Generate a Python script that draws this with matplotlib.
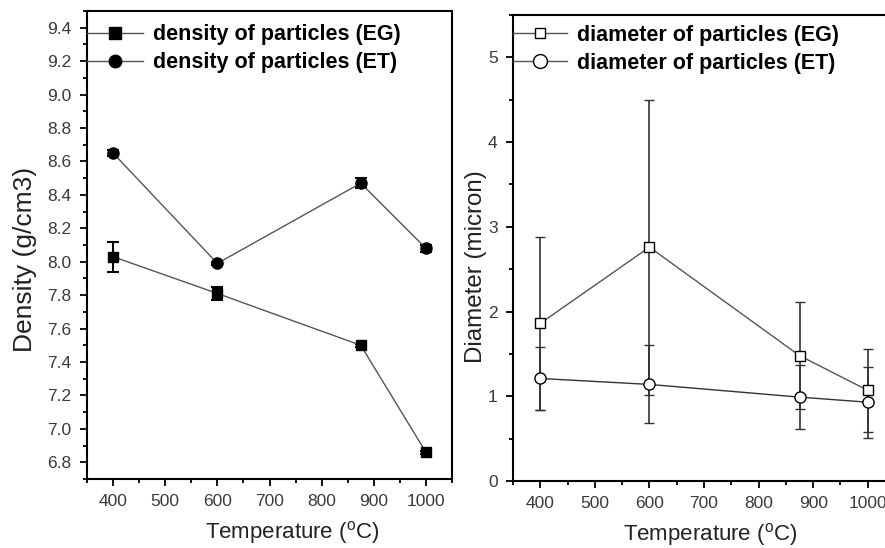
import numpy as np
import matplotlib.pyplot as plt
from matplotlib.lines import Line2D
from matplotlib.ticker import MultipleLocator

plt.rcParams['font.family'] = ['Liberation Sans', 'DejaVu Sans']
plt.rcParams['mathtext.default'] = 'regular'

# 煅烧温度
temps = [400, 600, 875, 1000]

# 密度 (g/cm3)
dens_eg = [8.03, 7.81, 7.50, 6.86]
dens_eg_err = [0.09, 0.04, 0.01, 0.01]
dens_et = [8.65, 7.99, 8.47, 8.08]
dens_et_err = [0.02, 0.01, 0.03, 0.02]

# 粒径 (micron)
diam_eg = [1.86, 2.76, 1.48, 1.07]
diam_eg_err = [1.02, 1.74, 0.63, 0.49]
diam_et = [1.21, 1.14, 0.99, 0.93]
diam_et_err = [0.37, 0.46, 0.38, 0.42]

LINE_C = '#555555'


def style_axes(ax, xlab_x):
    ax.tick_params(which='both', direction='out', top=False, right=False,
                   colors='black', labelcolor='#3a3a3a', labelsize=12.5, width=1.3)
    ax.tick_params(which='major', length=5, pad=6)
    ax.tick_params(which='minor', length=3)
    for sp in ax.spines.values():
        sp.set_linewidth(1.5)
    ax.set_xlim(350, 1050)
    ax.xaxis.set_major_locator(MultipleLocator(100))
    ax.xaxis.set_minor_locator(MultipleLocator(50))
    ax.set_xlabel('Temperature ($^{o}$C)', fontsize=16, color='#222222')
    ax.xaxis.set_label_coords(xlab_x, -0.085)


def add_legend(ax, handles, labels, hl, top):
    ax.legend(handles, labels, loc='upper left', bbox_to_anchor=(0, top),
              frameon=False, borderaxespad=0, borderpad=0, handlelength=hl,
              handletextpad=0.45, labelspacing=0.33,
              prop={'weight': 'bold', 'size': 15.5})


fig = plt.figure(figsize=(8.85, 5.48), dpi=100)
W, H = 885, 548

# 左图：密度
ax1 = fig.add_axes([87 / W, (H - 479) / H, (452 - 87) / W, (479 - 11) / H])
ax1.errorbar(temps, dens_eg, yerr=dens_eg_err, color=LINE_C, lw=1,
             marker='s', ms=7.5, mfc='black', mec='black',
             ecolor='black', elinewidth=1.5, capsize=4.3, capthick=1.5)
ax1.errorbar(temps, dens_et, yerr=dens_et_err, color=LINE_C, lw=1,
             marker='o', ms=8, mfc='black', mec='black',
             ecolor='black', elinewidth=1.5, capsize=4.3, capthick=1.5)
style_axes(ax1, 0.562)
ax1.set_ylim(6.7, 9.5)
ax1.yaxis.set_major_locator(MultipleLocator(0.2))
ax1.yaxis.set_minor_locator(MultipleLocator(0.1))
ax1.yaxis.set_major_formatter(lambda v, p: f'{v:.1f}')
ax1.set_ylabel('Density (g/cm3)', fontsize=19, color='#222222')
ax1.yaxis.set_label_coords(-0.137, 0.47)
h1 = [Line2D([], [], color=LINE_C, lw=1, marker='s', ms=8, mfc='black', mec='black'),
      Line2D([], [], color=LINE_C, lw=1, marker='o', ms=9, mfc='black', mec='black')]
add_legend(ax1, h1, ['density of particles (EG)', 'density of particles (ET)'], 2.6, 0.972)

# 右图：粒径
ax2 = fig.add_axes([513 / W, (H - 481) / H, (895 - 513) / W, (481 - 15) / H])
ax2.errorbar(temps, diam_eg, yerr=diam_eg_err, color=LINE_C, lw=1,
             marker='s', ms=6.5, mfc='white', mec='black', mew=1,
             ecolor='#333333', elinewidth=1.2, capsize=3.5, capthick=1.2)
ax2.errorbar(temps, diam_et, yerr=diam_et_err, color='#333333', lw=1,
             marker='o', ms=8, mfc='white', mec='black', mew=1,
             ecolor='#333333', elinewidth=1.2, capsize=3.5, capthick=1.2)
style_axes(ax2, 0.516)
ax2.set_ylim(0, 5.5)
ax2.yaxis.set_major_locator(MultipleLocator(1))
ax2.yaxis.set_minor_locator(MultipleLocator(0.5))
ax2.set_ylabel('Diameter (micron)', fontsize=17.4, color='#222222')
ax2.yaxis.set_label_coords(-0.068, 0.46)
h2 = [Line2D([], [], color=LINE_C, lw=1, marker='s', ms=7, mfc='white', mec='black'),
      Line2D([], [], color=LINE_C, lw=1, marker='o', ms=10, mfc='white', mec='black')]
add_legend(ax2, h2, ['diameter of particles (EG)', 'diameter of particles (ET)'], 2.5, 0.979)

fig.savefig('out.png', dpi=100)
